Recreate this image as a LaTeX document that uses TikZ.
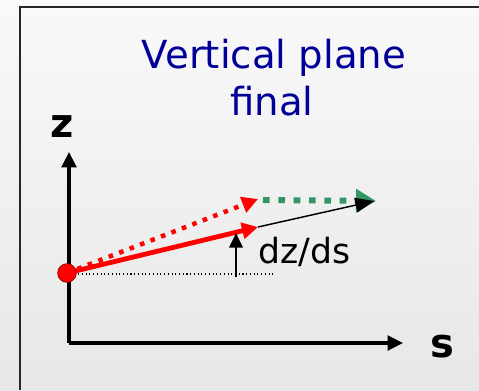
\documentclass[tikz,border=0pt]{standalone}
\usepackage{fontspec}
\setmainfont{DejaVu Sans}
\usetikzlibrary{arrows.meta}
\definecolor{titleblue}{RGB}{0,0,153}
\definecolor{vecgreen}{RGB}{51,150,102}
\definecolor{bgtop}{RGB}{249,249,249}
\definecolor{bgbot}{RGB}{231,231,231}
\begin{document}
\begin{tikzpicture}[x=0.75pt,y=-0.75pt,
  axis/.style={line width=2.4pt,-{Triangle[length=11.5pt,width=11pt]}},
  redsolid/.style={red,line width=3.6pt,-{Triangle[length=12pt,width=12pt]}},
  reddot/.style={red,line width=3.4pt,dash pattern=on 3.4pt off 5pt,-{Triangle[length=12pt,width=12pt]}},
  greendash/.style={vecgreen,line width=4.5pt,dash pattern=on 5pt off 6.5pt,-{Triangle[length=15pt,width=17pt]}},
  thinarrow/.style={black,line width=1.1pt,-{Triangle[length=14pt,width=11pt]}},
  smallarrow/.style={black,line width=2pt,-{Triangle[length=11pt,width=10pt]}},
  lbl/.style={inner sep=0pt,anchor=base}
]
\useasboundingbox (0,0) rectangle (479,390);
\shade[top color=bgtop,bottom color=bgbot] (0,0) rectangle (479,390);
\draw[line width=1.5pt,black!85] (20,390) -- (20,7) -- (479,7);

% title
\node[lbl,text=titleblue,font=\fontsize{29}{34}\selectfont] (t1) at (274,68) {Vertical plane};
\node[lbl,text=titleblue,font=\fontsize{29}{34}\selectfont] (t2) at (272,115) {final};

% axes
\coordinate (O) at (69,343);
\coordinate (ztip) at (69,152);
\coordinate (stip) at (403,343);
\draw[axis] (O) -- (ztip);
\draw[axis] (O) -- (stip);
\node[lbl,font=\bfseries\fontsize{30}{34}\selectfont] (zlab) at (62,137) {z};
\node[lbl,font=\bfseries\fontsize{30}{34}\selectfont] (slab) at (442,357) {s};

% origin point and reference line
\coordinate (P) at (67,273);
\coordinate (hstart) at (67,274);
\coordinate (href) at (273,274);
\draw[line width=0.8pt,dotted] (hstart) -- (href);

% vectors
\coordinate (A) at (258,227);
\coordinate (B) at (258,199);
\coordinate (G) at (263,200);
\coordinate (C) at (376,201);
\coordinate (D) at (374,201);
\draw[reddot] (P) -- (B);
\draw[greendash] (G) -- (C);
\draw[redsolid] (P) -- (A);
\draw[thinarrow] (A) -- (D);

% dz/ds
\coordinate (dsb) at (236,277);
\coordinate (dst) at (236,233);
\draw[smallarrow] (dsb) -- (dst);
\node[lbl,anchor=base west,font=\fontsize{26}{30}\selectfont] (dzds) at (258,263) {dz/ds};

\node[circle,fill=red,draw=red!60!black,line width=0.6pt,minimum size=14pt,inner sep=0pt] (dot) at (P) {};
\end{tikzpicture}
\end{document}
